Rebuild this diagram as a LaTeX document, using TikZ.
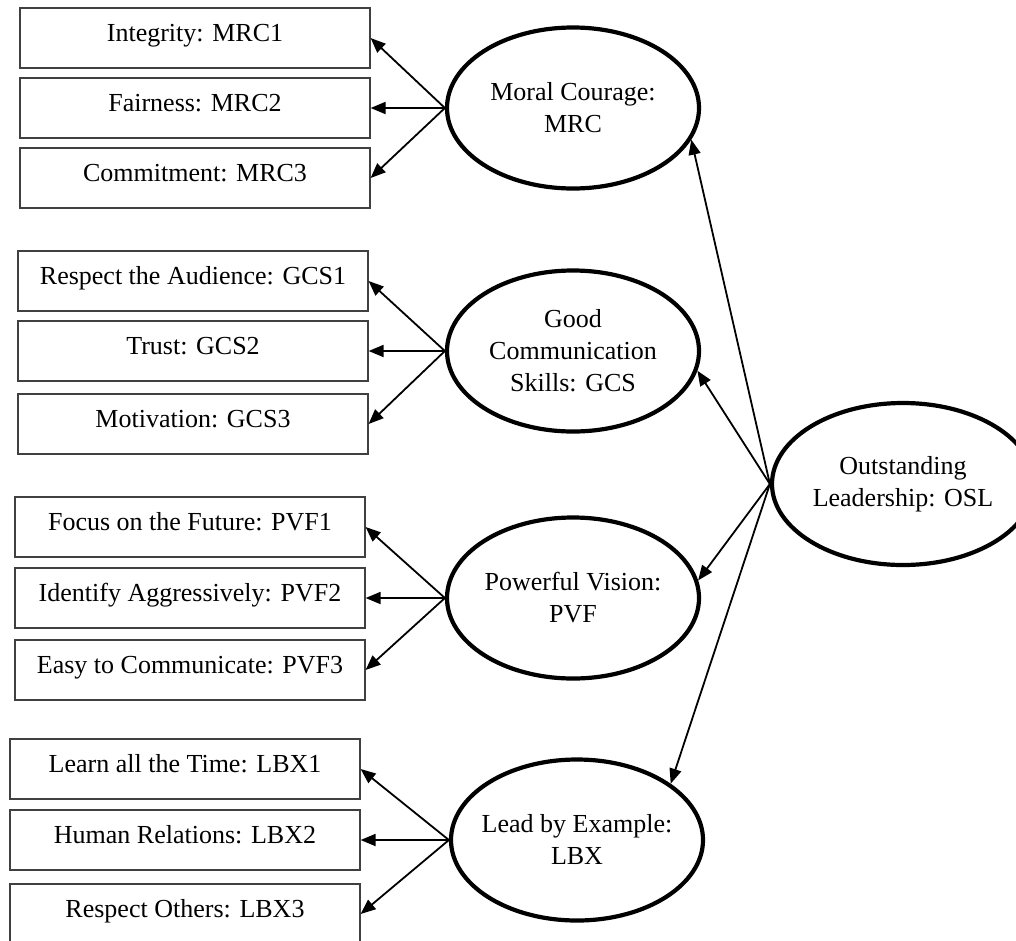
\documentclass[tikz,border=0pt]{standalone}
\usepackage{fontspec}
\setmainfont{Liberation Serif}
\usetikzlibrary{shapes.geometric, arrows.meta, positioning}

\begin{document}
\begin{tikzpicture} [x = 1pt, y = -1pt, node distance = 70pt, on grid, font = \fontsize{26}{32}\selectfont,
	item/.style = {draw = black!75, line width = 1.2pt, minimum width = 350pt, minimum height = 60pt,
	text height = 21pt, text depth = 15pt, inner sep = 0pt},
	factor/.style = {ellipse, draw, line width = 4.2pt, minimum width = 252pt, minimum height = 161pt,
	inner sep = 0pt, align = center},
	load/.style = {-{Triangle[length = 15pt, width = 12pt]}, line width = 1.8pt}]
			\useasboundingbox (0,0) rectangle (1016,940);

			% Second order factor
			\node (osl) [factor, minimum width = 262pt, minimum height = 162pt] at (903,484) {Outstanding\\Leadership: OSL};

			% First order factors
			\node (mrc) [factor] at (573,108) {Moral Courage:\\MRC};
			\node (gcs) [factor] at (573,351) {Good\\Communication\\Skills: GCS};
			\node (pvf) [factor, inner xsep = -4pt] at (573,598) {Powerful Vision:\\PVF};
			\node (lbx) [factor, inner xsep = -8pt] at (577,840) {Lead by Example:\\LBX};

			% Indicators: Moral Courage
			\node (mrc2) [item, left = 378pt of mrc] {Fairness: MRC2};
			\node (mrc1) [item, above = of mrc2] {Integrity: MRC1};
			\node (mrc3) [item, below = of mrc2] {Commitment: MRC3};

			% Indicators: Good Communication Skills
			\node (gcs2) [item, left = 380pt of gcs] {Trust: GCS2};
			\node (gcs1) [item, above = of gcs2] {Respect the Audience: GCS1};
			\node (gcs3) [item, below = 73pt of gcs2] {Motivation: GCS3};

			% Indicators: Powerful Vision
			\node (pvf2) [item, left = 383pt of pvf] {Identify Aggressively: PVF2};
			\node (pvf1) [item, above = 71pt of pvf2] {Focus on the Future: PVF1};
			\node (pvf3) [item, below = 72pt of pvf2] {Easy to Communicate: PVF3};

			% Indicators: Lead by Example
			\node (lbx2) [item, left = 392pt of lbx] {Human Relations: LBX2};
			\node (lbx1) [item, above = 71pt of lbx2] {Learn all the Time: LBX1};
			\node (lbx3) [item, below = 74pt of lbx2] {Respect Others: LBX3};

			% Draw Arrows/Connections
			\foreach \f in {mrc, gcs, pvf, lbx}
				\foreach \i in {1, 2, 3}
					\draw [load] (\f.west) -- (\f\i.east);

			\draw [load] (osl.west) -- (mrc.-15);
			\draw [load] (osl.west) -- (gcs.-9);
			\draw [load] (osl.west) -- (pvf.8);
			\draw [load] (osl.west) -- (lbx.31);
		\end{tikzpicture}
\end{document}
